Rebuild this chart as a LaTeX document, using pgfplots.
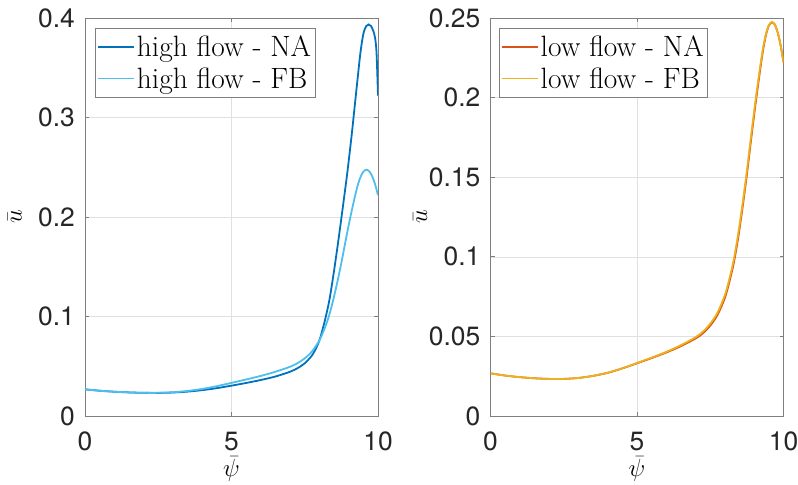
\documentclass[border=0pt]{standalone}
\usepackage{pgfplots}
\pgfplotsset{compat=1.18}
\usepackage{pgfplotstable}
\usepackage{fontspec}
\setsansfont{TeX Gyre Heros}

\definecolor{naBlue}{HTML}{0072BD}
\definecolor{fbBlue}{HTML}{4DBEEE}
\definecolor{naRed}{HTML}{D95319}
\definecolor{fbYel}{HTML}{EDB120}
\definecolor{axgray}{HTML}{7F7F7F}

% high flow, no-assist
\pgfplotstableread{
x y
0 0.0268
0.5 0.0254
1 0.0244
1.5 0.0237
2 0.0233
2.5 0.0232
3 0.0236
3.5 0.0245
4 0.0260
4.5 0.0280
5 0.0305
5.5 0.0332
6 0.0362
6.5 0.0397
7 0.0445
7.25 0.0480
7.5 0.0530
7.75 0.0610
7.9 0.0690
8.0 0.0760
8.1 0.0860
8.22 0.1000
8.35 0.1180
8.5 0.1460
8.65 0.1770
8.8 0.2100
8.95 0.2440
9.1 0.2820
9.2 0.3100
9.3 0.3380
9.4 0.3650
9.5 0.3840
9.6 0.3920
9.68 0.3935
9.76 0.3920
9.84 0.3870
9.9 0.3800
9.95 0.3650
10 0.3220
}\highNA

% high flow, feedback
\pgfplotstableread{
x y
0 0.0268
0.5 0.0254
1 0.0244
1.5 0.0237
2 0.0233
2.5 0.0233
3 0.0239
3.5 0.0252
4 0.0272
4.5 0.0300
5 0.0333
5.5 0.0367
6 0.0403
6.5 0.0445
7 0.0495
7.25 0.0530
7.5 0.0580
7.75 0.0650
8.0 0.0760
8.15 0.0860
8.3 0.0980
8.45 0.1140
8.6 0.1330
8.75 0.1540
8.9 0.1770
9.05 0.1990
9.2 0.2190
9.3 0.2310
9.4 0.2400
9.5 0.2455
9.6 0.2475
9.7 0.2460
9.8 0.2410
9.9 0.2330
10 0.2220
}\highFB

% low flow, no-assist
\pgfplotstableread{
x y
0 0.0268
0.5 0.0254
1 0.0244
1.5 0.0237
2 0.0233
2.5 0.0233
3 0.0239
3.5 0.0252
4 0.0271
4.5 0.0299
5 0.0331
5.5 0.0364
6 0.0399
6.5 0.0439
7 0.0487
7.25 0.0520
7.5 0.0568
7.75 0.0636
8.0 0.0742
8.15 0.0840
8.3 0.0958
8.45 0.1115
8.6 0.1305
8.75 0.1515
8.9 0.1745
9.05 0.1965
9.2 0.2170
9.3 0.2295
9.4 0.2392
9.5 0.2452
9.6 0.2472
9.7 0.2460
9.8 0.2410
9.9 0.2330
10 0.2222
}\lowNA

% low flow, feedback
\pgfplotstableread{
x y
0 0.0268
0.5 0.0254
1 0.0244
1.5 0.0237
2 0.0233
2.5 0.0233
3 0.0239
3.5 0.0252
4 0.0272
4.5 0.0300
5 0.0333
5.5 0.0367
6 0.0403
6.5 0.0445
7 0.0495
7.25 0.0530
7.5 0.0580
7.75 0.0650
8.0 0.0760
8.15 0.0860
8.3 0.0980
8.45 0.1140
8.6 0.1330
8.75 0.1540
8.9 0.1770
9.05 0.1990
9.2 0.2190
9.3 0.2310
9.4 0.2400
9.5 0.2455
9.6 0.2475
9.7 0.2460
9.8 0.2410
9.9 0.2330
10 0.2220
}\lowFB

\pgfplotsset{
  mstyle/.style={
    scale only axis,
    width=293bp, height=398bp,
    anchor=south west,
    xmin=0, xmax=10, xtick={0,5,10},
    axis line style={axgray, line width=0.6bp},
    tick style={axgray, line width=0.6bp},
    tick align=inside,
    major tick length=4bp,
    grid=major,
    major grid style={black!12, line width=0.5bp},
    /pgf/number format/assume math mode=true,
    ticklabel style={font=\fontsize{26.5}{30}\sffamily, text=black!85},
    xticklabel style={inner sep=0pt, yshift=-15.5bp},
    yticklabel style={inner sep=0pt, xshift=-10bp},
    xlabel={$\bar{\psi}$}, ylabel={$\bar{u}$},
    label style={font=\fontsize{24}{28}\selectfont, inner sep=0pt},
    xlabel style={at={(axis description cs:0.5,-0.133)}, anchor=center},
    ylabel style={at={(axis description cs:-0.24,0.5)}, anchor=center},
    legend style={font=\fontsize{29.5}{31}\selectfont, draw=axgray,
      at={(0.034,0.975)}, anchor=north west,
      inner xsep=2bp, inner ysep=6bp, row sep=5bp},
    legend cell align=left,
    legend image code/.code={\draw[#1, line width=1.8bp] (0bp,0bp) -- (36bp,0bp);},
    every axis plot/.append style={line width=1.8bp},
  }
}

\begin{document}
\begin{tikzpicture}
\path[use as bounding box] (0bp,0bp) rectangle (798bp,485bp);

\begin{axis}[mstyle, at={(85bp,69bp)},
  ymin=0, ymax=0.4, ytick={0,0.1,0.2,0.3,0.4},
  yticklabels={0,0.1,0.2,0.3,0.4}]
\addplot[naBlue, smooth] table {\highNA};
\addplot[fbBlue, smooth] table {\highFB};
\legend{high flow - NA, high flow - FB}
\end{axis}

\begin{axis}[mstyle, at={(490.5bp,69bp)},
  ymin=0, ymax=0.25, ytick={0,0.05,0.1,0.15,0.2,0.25},
  yticklabels={0,0.05,0.1,0.15,0.2,0.25},
  legend style={at={(0.028,0.975)}}]
\addplot[naRed, smooth] table {\lowNA};
\addplot[fbYel, smooth] table {\lowFB};
\legend{low flow - NA, low flow - FB}
\end{axis}
\end{tikzpicture}
\end{document}
